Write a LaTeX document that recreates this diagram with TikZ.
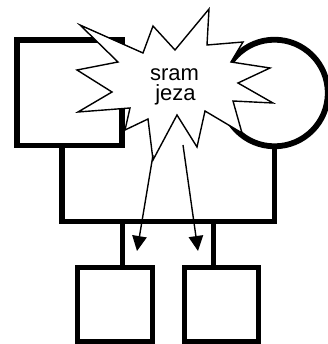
\documentclass[tikz,border=0pt]{standalone}
\usepackage{fontspec}
\newfontfamily\arialfont{Liberation Sans}
\usetikzlibrary{arrows.meta}
\begin{document}
\begin{tikzpicture}[x=1pt,y=-1pt,
  heavy/.style={draw=black,line width=5.8pt,line join=miter},
  person/.style={heavy,fill=white,inner sep=0pt,outer sep=0pt},
  burst/.style={draw=black,fill=white,line width=1.4pt,line join=miter,miter limit=20},
  pointer/.style={draw=black,line width=1.4pt,-{Triangle[length=15pt,width=14.5pt]}},
  label/.style={font=\arialfont\fontsize{22}{20}\selectfont,inner sep=0pt,anchor=base}]
\useasboundingbox (0,0) rectangle (328,344);
% parents
\node[person,rectangle,minimum width=105pt,minimum height=105.7pt] (father) at (69.5,92.65) {};
\node[person,circle,minimum size=106.6pt] (mother) at (274.5,93) {};
% children
\node[person,rectangle,minimum width=75pt,minimum height=74pt] (child1) at (115,304.5) {};
\node[person,rectangle,minimum width=74pt,minimum height=74pt] (child2) at (221.5,304.5) {};
% marriage line
\coordinate (fj) at (62.3,221.5);
\coordinate (mj) at (274.5,221.5);
\coordinate (d1) at (122.5,221.5);
\coordinate (d2) at (213.5,221.5);
\draw[heavy] (fj |- father.south) -- (fj) -- (mj) -- (mj |- mother.south);
\draw[heavy] (d1) -- (d1 |- child1.north);
\draw[heavy] (d2) -- (d2 |- child2.north);
% explosion
\draw[burst] (80,25) -- (143,53) -- (153,26) -- (175,50) -- (209,9) -- (207,45)
  -- (243,42) -- (231,62) -- (270,68) -- (238,83) -- (273,103) -- (233,101)
  -- (242,133) -- (205,111) -- (197,147) -- (177,115) -- (153,160) -- (148,119)
  -- (125,130) -- (130,108) -- (78,112) -- (112,92) -- (77,70) -- (118,62) -- cycle;
\node[label] (t1) at (174.5,80.7) {sram};
\node[label] (t2) at (175.5,101) {jeza};
% arrows
\coordinate (a1s) at (153,155);
\coordinate (a1e) at (137,251);
\coordinate (a2s) at (183,145);
\coordinate (a2e) at (198,251);
\draw[pointer] (a1s) -- (a1e);
\draw[pointer] (a2s) -- (a2e);
\end{tikzpicture}
\end{document}
